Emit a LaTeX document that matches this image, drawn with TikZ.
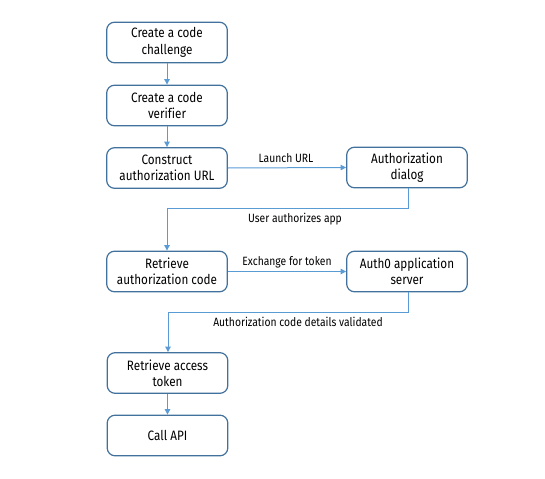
\documentclass[tikz,border=0pt]{standalone}
\usepackage{fontspec}
\setmainfont{Fira Sans}[FakeStretch=0.86,Ligatures=NoCommon]
\usetikzlibrary{arrows.meta}
\definecolor{boxc}{HTML}{41719C}
\definecolor{linec}{HTML}{5B9BD5}
\begin{document}
\begin{tikzpicture}[x=0.75pt,y=-0.75pt,
  box/.style={draw=boxc,line width=0.9pt,rounded corners=6pt,fill=white,
    minimum width=90.5pt,minimum height=30.5pt,inner sep=1pt,
    align=center,font=\fontsize{10.2}{12.3}\selectfont,text=black},
  conn/.style={draw=linec,line width=0.75pt,-{Triangle[length=4pt,width=4pt]}},
  lab/.style={font=\fontsize{9}{10}\selectfont,text=black}]
\useasboundingbox (0,0) rectangle (545,478);
\node[box] (n1) at (167,42.5) {Create a code\\challenge};
\node[box] (n2) at (167,105.5) {Create a code\\verifier};
\node[box] (n3) at (167,168) {Construct\\authorization URL};
\node[box] (dlg) at (407,167.5) {Authorization\\dialog};
\node[box] (n5) at (167,271.5) {Retrieve\\authorization code};
\node[box] (srv) at (407,271.5) {Auth0 application\\server};
\node[box] (n7) at (167.5,373) {Retrieve access\\token};
\node[box] (api) at (167.5,435.5) {Call API};
\coordinate (c1a) at (408,208);
\coordinate (c1b) at (167,208);
\coordinate (c2a) at (408,312);
\coordinate (c2b) at (168,312);
\draw[conn] (n1) -- (n2);
\draw[conn] (n2) -- (n3);
\draw[conn] (n3.east) -- (dlg.west);
\draw[conn] (dlg.south -| c1a) -- (c1a) -- (c1b) -- (n5.north);
\draw[conn] (n5.east) -- (srv.west);
\draw[conn] (srv.south -| c2a) -- (c2a) -- (c2b) -- (n7.north -| c2b);
\draw[conn] (n7) -- (api);
\node[lab] (l1) at (286,158) {Launch URL};
\node[lab] (l2) at (295,219) {User authorizes app};
\node[lab] (l3) at (287,262) {Exchange for token};
\node[lab] (l4) at (298,322) {Authorization code details validated};
\end{tikzpicture}
\end{document}
